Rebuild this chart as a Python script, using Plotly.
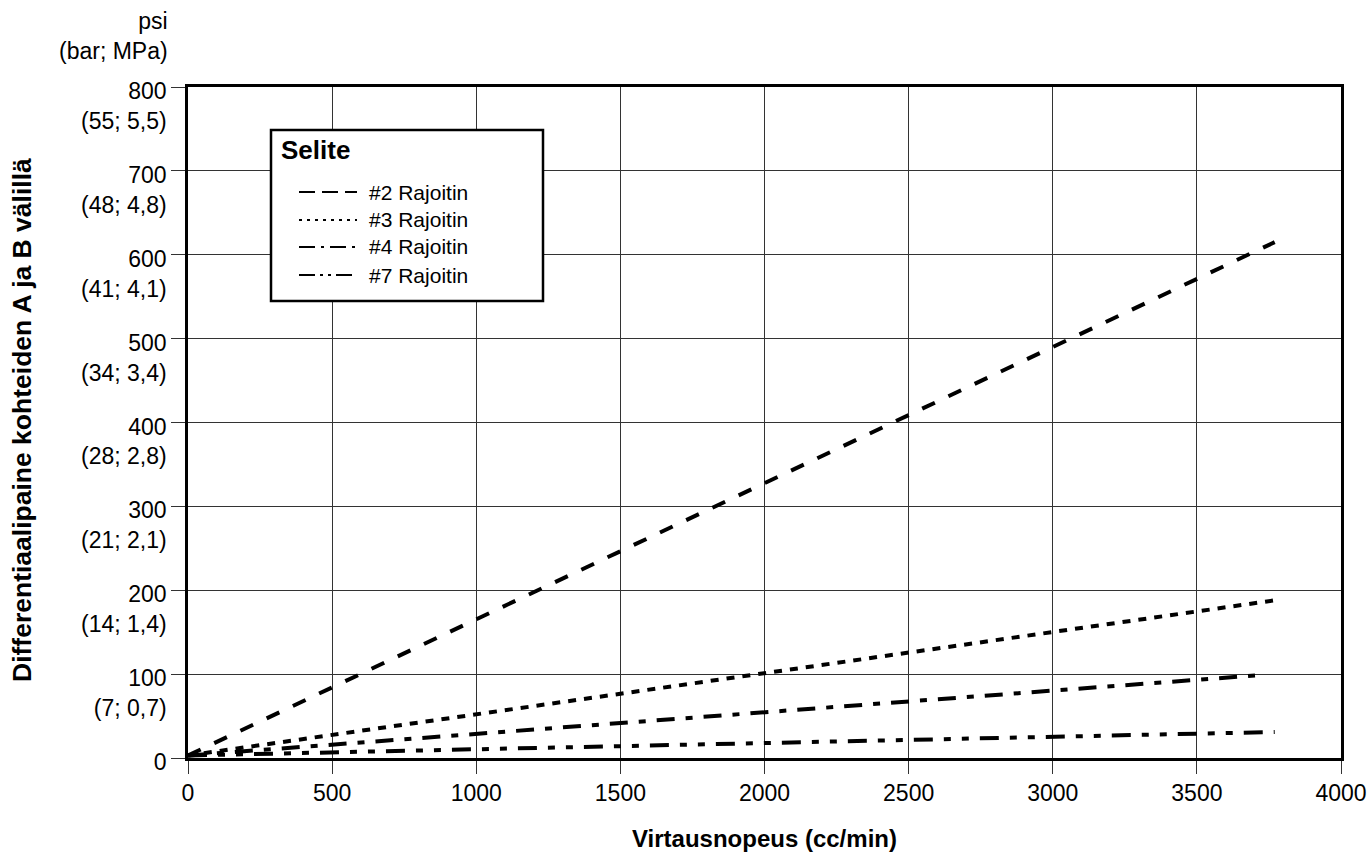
import plotly.graph_objects as go

# ---------------- Data ----------------
series_names = ["#2 Rajoitin", "#3 Rajoitin", "#4 Rajoitin", "#7 Rajoitin"]
flow_start = [0, 0, 0, 0]
flow_end = [3770, 3770, 3725, 3770]
psi_start = [3, 3, 3, 3]
psi_end = [615, 188, 99, 31]

x_ticks = [0, 500, 1000, 1500, 2000, 2500, 3000, 3500, 4000]
y_ticks = [0, 100, 200, 300, 400, 500, 600, 700, 800]
y_ticktext = ["0<br> ", "100<br>(7; 0,7)", "200<br>(14; 1,4)", "300<br>(21; 2,1)",
              "400<br>(28; 2,8)", "500<br>(34; 3,4)", "600<br>(41; 4,1)",
              "700<br>(48; 4,8)", "800<br>(55; 5,5)"]

# ---------------- Styles ----------------
dash_styles = ["14px,15px", "8px,8px", "18px,11px,7px,11px", "19px,11px,7px,11px,7px,11px"]
legend_dashes = ["16px,7px", "3px,5px", "16px,6px,3px,6px", "16px,5px,3px,5px,3px,5px"]
FONT = "Liberation Sans, Arial, Helvetica, sans-serif"

W, H = 1371, 864
L, R, T, B = 188, 1341, 87, 758    # plot area in screen pixels


def px(x):
    return (x - L) / (R - L)


def py(y):
    return (B - y) / (B - T)


fig = go.Figure()
for i, name in enumerate(series_names):
    fig.add_trace(go.Scatter(
        x=[flow_start[i], flow_end[i]],
        y=[psi_start[i], psi_end[i]],
        mode="lines",
        name=name,
        line=dict(color="black", width=4, dash=dash_styles[i]),
        showlegend=False,
    ))

# ---------------- Manual legend ----------------
shapes = [dict(type="rect", xref="paper", yref="paper",
               x0=px(271), x1=px(543), y0=py(301), y1=py(130),
               line=dict(color="black", width=2.5), fillcolor="white", layer="above")]
annotations = [dict(text="<b>Selite</b>", xref="paper", yref="paper",
                    x=px(279), y=py(150), xanchor="left", yanchor="middle",
                    showarrow=False, font=dict(size=26))]
row_y = [192, 220, 247, 275]
for i, name in enumerate(series_names):
    shapes.append(dict(type="line", xref="paper", yref="paper",
                       x0=px(299), x1=px(357), y0=py(row_y[i]), y1=py(row_y[i]),
                       line=dict(color="black", width=2, dash=legend_dashes[i]),
                       layer="above"))
    annotations.append(dict(text=name, xref="paper", yref="paper",
                            x=px(367), y=py(row_y[i]), xanchor="left", yanchor="middle",
                            showarrow=False, font=dict(size=21)))

annotations += [
    dict(text="psi<br>(bar; MPa)", xref="paper", yref="paper",
         x=px(170), y=py(6), xanchor="right", yanchor="top", align="right",
         showarrow=False, font=dict(size=23)),
    dict(text="<b>Virtausnopeus (cc/min)</b>", xref="paper", yref="paper",
         x=0.5, y=py(838), xanchor="center", yanchor="middle",
         showarrow=False, font=dict(size=24)),
    dict(text="<b>Differentiaalipaine kohteiden A ja B välillä</b>", xref="paper", yref="paper",
         x=px(22), y=py(420), xanchor="center", yanchor="middle", textangle=-90,
         showarrow=False, font=dict(size=26.5)),
]

fig.update_layout(
    width=W, height=H,
    margin=dict(l=L, r=W - R, t=T, b=H - B, autoexpand=False),
    paper_bgcolor="white", plot_bgcolor="white",
    font=dict(family=FONT, size=23, color="black"),
    showlegend=False,
    shapes=shapes,
    annotations=annotations,
)

fig.update_xaxes(
    range=[0, 4000], tickvals=x_ticks, ticks="outside", ticklen=13,
    tickcolor="#333", tickwidth=1,
    showgrid=True, gridcolor="#333", gridwidth=1,
    showline=True, linecolor="black", linewidth=2.5, mirror=True,
    zeroline=False, ticklabelstandoff=0, automargin=False,
)
fig.update_yaxes(
    range=[0, 800], tickvals=y_ticks, ticktext=y_ticktext, ticks="outside", ticklen=14,
    tickcolor="#333", tickwidth=1,
    showgrid=True, gridcolor="#333", gridwidth=1,
    showline=True, linecolor="black", linewidth=2.5, mirror=True,
    zeroline=False, ticklabelstandoff=0, ticklabelshift=19, automargin=False,
)

fig.write_html("out.html",
               config={"displayModeBar": False},
               post_script="document.body.style.margin='0';document.body.style.overflow='hidden';")
